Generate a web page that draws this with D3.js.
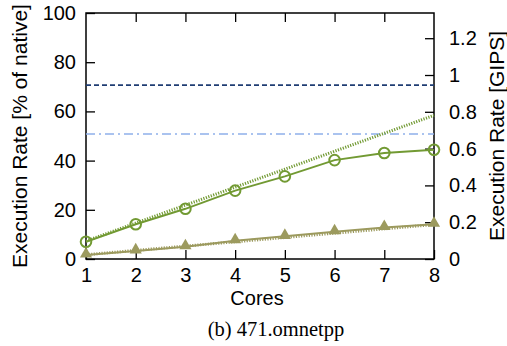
<!DOCTYPE html>
<html>
<head>
<meta charset="utf-8">
<script src="https://cdnjs.cloudflare.com/ajax/libs/d3/7.8.5/d3.min.js"></script>
<style>
  body { margin: 0; background: #fff; }
  svg { display: block; }
  .tick text { font-family: "Liberation Sans", Arial, sans-serif; font-size: 20px; fill: #000; }
</style>
</head>
<body>
<script>
// data
var cores = [1, 2, 3, 4, 5, 6, 7, 8];
var measured = [7.0, 14.1, 20.4, 27.8, 33.6, 40.2, 43.1, 44.4];     // % of native, circles
var idealMeasured = [7.3, 14.6, 21.9, 29.2, 36.5, 43.8, 51.1, 58.4]; // dotted green
var baseline = [1.6, 3.3, 5.0, 7.4, 9.2, 11.1, 12.8, 14.1];          // triangles
var idealBaseline = [1.75, 3.5, 5.25, 7.0, 8.75, 10.5, 12.25, 14.0]; // dotted tan
var nativeLine = 70.7;   // dark blue dashed
var otherLine = 50.8;    // light blue dash-dot
var leftTicks = [0, 20, 40, 60, 80, 100];
var rightTicks = [0, 0.2, 0.4, 0.6, 0.8, 1, 1.2];
var rightMax = 1.337;

var W = 507, H = 346;
var m = {left: 86, right: 73, top: 13, bottom: 87};
var iw = W - m.left - m.right, ih = H - m.top - m.bottom;

var svg = d3.select("body").append("svg").attr("width", W).attr("height", H);
var g = svg.append("g").attr("transform", "translate(" + m.left + "," + m.top + ")");

var x = d3.scaleLinear().domain([1, 8]).range([0, iw]);
var y = d3.scaleLinear().domain([0, 100]).range([ih, 0]);
var y2 = d3.scaleLinear().domain([0, rightMax]).range([ih, 0]);

// axes
var xb = g.append("g").attr("transform", "translate(0," + ih + ")")
  .call(d3.axisBottom(x).tickValues(cores).tickFormat(d3.format("d")).tickSizeInner(-9).tickSizeOuter(0).tickPadding(9));
var xt = g.append("g")
  .call(d3.axisTop(x).tickValues(cores.slice(1, 7)).tickFormat("").tickSizeInner(-9).tickSizeOuter(0));
var yl = g.append("g")
  .call(d3.axisLeft(y).tickValues(leftTicks).tickFormat(d3.format("d")).tickSizeInner(-9).tickSizeOuter(0).tickPadding(10));
var yr = g.append("g").attr("transform", "translate(" + iw + ",0)")
  .call(d3.axisRight(y2).tickValues(rightTicks).tickFormat(function(d) { return d; }).tickSizeInner(-9).tickSizeOuter(0).tickPadding(15));

[xb, xt, yl, yr].forEach(function(a) {
  a.selectAll("path").remove();
  a.selectAll("line").attr("stroke", "#000").attr("stroke-width", 1.3);
});
xb.selectAll("text").attr("dy", "0.71em");

g.append("rect").attr("width", iw).attr("height", ih)
  .attr("fill", "none").attr("stroke", "#000").attr("stroke-width", 1.5);

// horizontal reference lines
g.append("line").attr("x1", 0).attr("x2", iw).attr("y1", y(nativeLine)).attr("y2", y(nativeLine))
  .attr("stroke", "#1f3d73").attr("stroke-width", 1.6).attr("stroke-dasharray", "5,3");
g.append("line").attr("x1", 0).attr("x2", iw).attr("y1", y(otherLine)).attr("y2", y(otherLine))
  .attr("stroke", "#8eb0ea").attr("stroke-width", 1.6).attr("stroke-dasharray", "9,4,2,4");

var line = d3.line().x(function(d, i) { return x(cores[i]); }).y(function(d) { return y(d); });

var green = "#729a33", tan = "#9c9a5e";

g.append("path").datum(idealMeasured).attr("d", line).attr("fill", "none")
  .attr("stroke", green).attr("stroke-width", 3).attr("stroke-dasharray", "1.2,1.4");
g.append("path").datum(idealBaseline).attr("d", line).attr("fill", "none")
  .attr("stroke", tan).attr("stroke-width", 3).attr("stroke-dasharray", "1.2,1.4");

g.append("path").datum(measured).attr("d", line).attr("fill", "none")
  .attr("stroke", green).attr("stroke-width", 2);
g.append("path").datum(baseline).attr("d", line).attr("fill", "none")
  .attr("stroke", tan).attr("stroke-width", 2);

g.selectAll(".circ").data(measured).enter().append("circle")
  .attr("cx", function(d, i) { return x(cores[i]); })
  .attr("cy", function(d) { return y(d); })
  .attr("r", 5.3).attr("fill", "none").attr("stroke", green).attr("stroke-width", 2);

var tri = d3.symbol().type(d3.symbolTriangle).size(64);
g.selectAll(".tri").data(baseline).enter().append("path")
  .attr("d", tri)
  .attr("transform", function(d, i) { return "translate(" + x(cores[i]) + "," + (y(d) - 1) + ")"; })
  .attr("fill", tan);

// axis titles
var sans = "Liberation Sans, Arial, sans-serif";
svg.append("text").attr("transform", "translate(27," + (m.top + ih / 2) + ") rotate(-90)")
  .attr("text-anchor", "middle").style("font-family", sans).style("font-size", "21px")
  .text("Execution Rate [% of native]");
svg.append("text").attr("transform", "translate(504," + (m.top + ih / 2) + ") rotate(-90)")
  .attr("text-anchor", "middle").style("font-family", sans).style("font-size", "21px")
  .text("Execution Rate [GIPS]");
svg.append("text").attr("x", m.left + iw / 2 - 3).attr("y", 305)
  .attr("text-anchor", "middle").style("font-family", sans).style("font-size", "20px")
  .text("Cores");
svg.append("text").attr("x", 276).attr("y", 336)
  .attr("text-anchor", "middle").style("font-family", "Liberation Serif, Times New Roman, serif").style("font-size", "20.5px")
  .text("(b) 471.omnetpp");
</script>
</body>
</html>
